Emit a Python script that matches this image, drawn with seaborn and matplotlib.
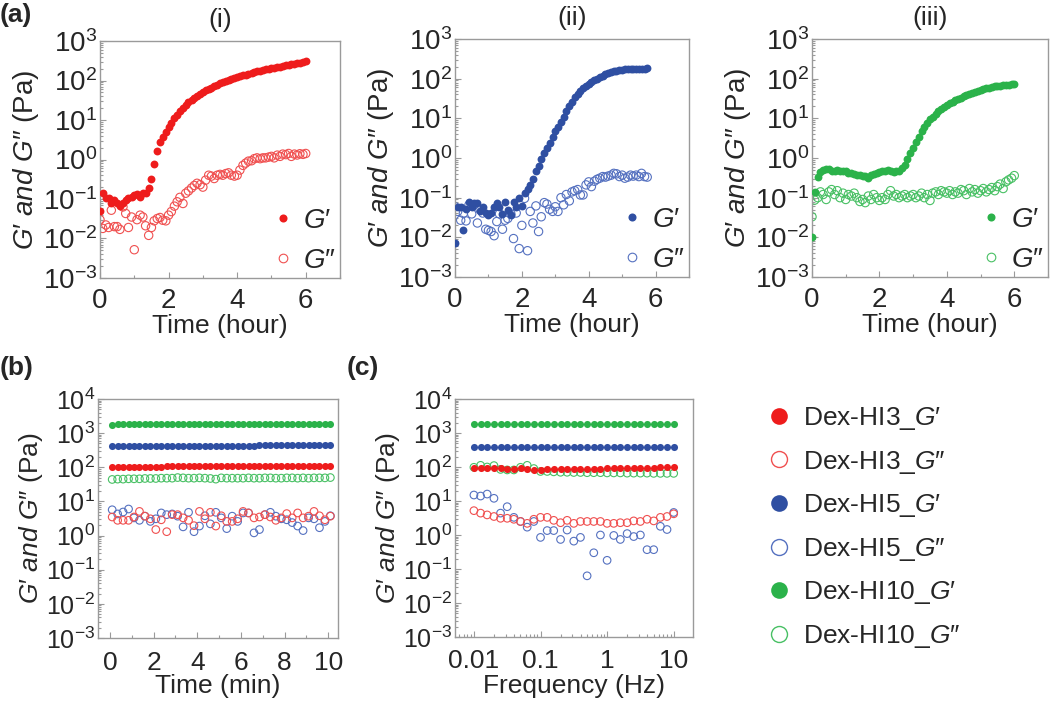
"""Rheology panels: time sweeps (a), stability (b) and frequency sweeps (c)."""

import matplotlib
matplotlib.use("Agg")
import matplotlib.pyplot as plt
from matplotlib.lines import Line2D
from matplotlib.ticker import LogLocator, MultipleLocator, NullFormatter
import numpy as np
import seaborn as sns

sns.set_style("ticks")
plt.rcParams["font.family"] = ["Liberation Sans", "DejaVu Sans"]
plt.rcParams["mathtext.fontset"] = "custom"
plt.rcParams["mathtext.rm"] = "Liberation Sans"
plt.rcParams["mathtext.it"] = "Liberation Sans:italic"
plt.rcParams["mathtext.bf"] = "Liberation Sans:bold"

# ---------------------------------------------------------------- data
TIME_HOUR = [
    0.00, 0.08, 0.17, 0.25, 0.33, 0.42, 0.50, 0.58, 0.67, 0.75, 0.83, 0.92,
    1.00, 1.08, 1.17, 1.25, 1.33, 1.42, 1.50, 1.58, 1.67, 1.75, 1.83, 1.92,
    2.00, 2.08, 2.17, 2.25, 2.33, 2.42, 2.50, 2.58, 2.67, 2.75, 2.83, 2.92,
    3.00, 3.08, 3.17, 3.25, 3.33, 3.42, 3.50, 3.58, 3.67, 3.75, 3.83, 3.92,
    4.00, 4.08, 4.17, 4.25, 4.33, 4.42, 4.50, 4.58, 4.67, 4.75, 4.83, 4.92,
    5.00, 5.08, 5.17, 5.25, 5.33, 5.42, 5.50, 5.58, 5.67, 5.75, 5.83, 5.92,
    6.00,
]

HI3_TIME_GP = [
    0.049, 0.138, 0.105, 0.107, 0.080, 0.093, 0.077, 0.066, 0.080, 0.095, 0.105, 0.113,
    0.125, 0.130, 0.113, 0.138, 0.138, 0.195, 0.33, 0.76, 1.6, 2.7, 3.7, 5.0,
    6.5, 8.6, 11, 13.5, 16.5, 20, 24, 28, 32, 36, 41, 46,
    51, 56, 61, 66, 72, 78, 84, 90, 96, 102, 108, 114,
    120, 127, 134, 141, 148, 155, 162, 169, 176, 183, 190, 197,
    204, 211, 218, 225, 232, 240, 248, 256, 264, 273, 282, 292,
    305,
]
HI3_TIME_GPP = [
    0.030, 0.018, 0.022, 0.019, 0.052, 0.020, 0.020, 0.017, 0.063, 0.043, 0.019, 0.035,
    0.0052, 0.030, 0.039, 0.035, 0.021, 0.012, 0.019, 0.028, 0.032, 0.034, 0.029, 0.028,
    0.039, 0.048, 0.066, 0.085, 0.11, 0.077, 0.14, 0.16, 0.19, 0.22, 0.25, 0.23,
    0.20, 0.30, 0.40, 0.38, 0.33, 0.40, 0.42, 0.40, 0.44, 0.46, 0.40, 0.38,
    0.40, 0.54, 0.71, 0.81, 0.91, 0.93, 1.05, 1.10, 1.05, 1.10, 1.10, 1.15,
    1.20, 1.10, 1.29, 1.20, 1.37, 1.33, 1.42, 1.20, 1.37, 1.30, 1.40, 1.35,
    1.42,
]

HI5_TIME_GP = [
    0.0074, 0.059, 0.059, 0.015, 0.051, 0.080, 0.059, 0.072, 0.072, 0.047, 0.059, 0.042,
    0.036, 0.040, 0.057, 0.075, 0.059, 0.038, 0.080, 0.049, 0.036, 0.080, 0.059, 0.096,
    0.062, 0.13, 0.17, 0.21, 0.30, 0.46, 0.63, 0.93, 1.3, 1.8, 2.4, 3.3,
    4.7, 6.2, 8.3, 11, 15, 20, 26.5, 34, 41, 50, 58, 66,
    74, 83, 92, 100, 109, 117, 128, 135, 144, 152, 158, 165,
    168, 171, 173, 175, 176, 177, 178, 179, 180, 181,
]
HI5_TIME_GPP = [
    0.059, 0.045, 0.027, 0.040, 0.026, 0.066, 0.039, 0.066, 0.023, 0.050, 0.041, 0.016,
    0.015, 0.014, 0.011, 0.025, 0.039, 0.016, 0.027, 0.030, 0.039, 0.0093, 0.041, 0.0052,
    0.020, 0.096, 0.0046, 0.045, 0.023, 0.062, 0.014, 0.033, 0.075, 0.069, 0.051, 0.045,
    0.059, 0.045, 0.10, 0.066, 0.12, 0.083, 0.14, 0.15, 0.16, 0.117, 0.117, 0.21,
    0.25, 0.19, 0.26, 0.29, 0.31, 0.34, 0.33, 0.35, 0.37, 0.41, 0.40, 0.34,
    0.37, 0.31, 0.33, 0.37, 0.35, 0.37, 0.34, 0.41, 0.34, 0.33,
]

HI10_TIME_GP = [
    0.010, 0.135, 0.33, 0.45, 0.50, 0.52, 0.52, 0.48, 0.46, 0.49, 0.46, 0.48,
    0.47, 0.43, 0.41, 0.39, 0.37, 0.37, 0.35, 0.35, 0.31, 0.38, 0.40, 0.42,
    0.44, 0.46, 0.47, 0.50, 0.48, 0.45, 0.47, 0.48, 0.55, 0.68, 0.95, 1.35,
    1.8, 2.5, 3.4, 4.7, 6.2, 7.7, 9.4, 11, 13, 15.5, 17.5, 19.5,
    22, 24, 26.5, 29, 31.5, 33.5, 36, 38.5, 41.5, 44, 46.5, 49,
    51.5, 55, 57, 59.5, 61.5, 63.5, 65.5, 67, 68.5, 70, 71, 72,
    73,
]
HI10_TIME_GPP = [
    0.033, 0.087, 0.10, 0.14, 0.12, 0.09, 0.14, 0.16, 0.12, 0.15, 0.10, 0.13,
    0.09, 0.12, 0.11, 0.13, 0.10, 0.08, 0.09, 0.075, 0.11, 0.09, 0.12, 0.10,
    0.085, 0.10, 0.09, 0.12, 0.15, 0.11, 0.12, 0.10, 0.11, 0.12, 0.10, 0.11,
    0.12, 0.10, 0.11, 0.13, 0.10, 0.12, 0.085, 0.13, 0.14, 0.12, 0.15, 0.14,
    0.13, 0.15, 0.12, 0.14, 0.13, 0.16, 0.15, 0.12, 0.17, 0.14, 0.16, 0.13,
    0.15, 0.17, 0.14, 0.16, 0.18, 0.15, 0.19, 0.22, 0.17, 0.25, 0.28, 0.31,
    0.36,
]

TIME_MIN = [
    0.10, 0.35, 0.60, 0.85, 1.10, 1.35, 1.60, 1.85, 2.10, 2.35, 2.60, 2.85,
    3.10, 3.35, 3.60, 3.85, 4.10, 4.35, 4.60, 4.85, 5.10, 5.35, 5.60, 5.85,
    6.10, 6.35, 6.60, 6.85, 7.10, 7.35, 7.60, 7.85, 8.10, 8.35, 8.60, 8.85,
    9.10, 9.35, 9.60, 9.85, 10.10,
]
HI3_STAB_GP = [
    104, 104, 105, 105, 105, 105, 105, 105, 105, 105, 106, 106,
    106, 106, 106, 106, 106, 106, 106, 106, 106, 106, 106, 106,
    106, 107, 107, 107, 107, 107, 107, 107, 107, 107, 107, 107,
    107, 108, 108, 108, 108,
]
HI3_STAB_GPP = [
    3.5, 2.8, 2.8, 2.8, 3.5, 5.1, 3.7, 3.1, 1.5, 2.9, 1.3, 4.1,
    4.1, 3.3, 2.8, 1.95, 5.1, 3.1, 4.8, 1.9, 3.8, 2.6, 2.6, 3.1,
    5.1, 4.6, 3.3, 3.5, 4.1, 3.5, 2.8, 3.3, 4.4, 3.3, 4.6, 3.3,
    3.7, 5.1, 3.8, 2.9, 3.7,
]
HI5_STAB_GP = [
    420, 421, 422, 422, 423, 424, 424, 425, 425, 426, 426, 427,
    427, 428, 428, 429, 429, 430, 430, 431, 431, 432, 432, 433,
    433, 434, 434, 435, 435, 436, 436, 437, 437, 438, 438, 439,
    439, 440, 440, 441, 441,
]
HI5_STAB_GPP = [
    5.7, 4.3, 4.9, 6.0, 3.3, 2.8, 3.7, 2.6, 3.1, 4.6, 4.1, 4.3,
    3.7, 1.8, 4.8, 1.3, 1.9, 3.8, 2.2, 4.8, 3.3, 1.6, 3.7, 2.6,
    4.6, 4.6, 1.2, 1.5, 4.1, 4.8, 3.7, 3.1, 2.9, 2.4, 1.9, 1.4,
    3.3, 3.1, 1.7, 2.6, 3.8,
]
HI10_STAB_GP = [
    1790, 1792, 1794, 1796, 1798, 1800, 1802, 1804, 1806, 1808, 1810, 1812,
    1814, 1816, 1818, 1820, 1821, 1822, 1823, 1824, 1825, 1826, 1827, 1828,
    1829, 1830, 1831, 1832, 1833, 1834, 1835, 1836, 1837, 1838, 1839, 1840,
    1841, 1842, 1843, 1844, 1845,
]
HI10_STAB_GPP = [
    44, 45, 45, 46, 46, 46, 47, 47, 47, 48, 48, 48,
    50, 49, 48, 48, 49, 48, 47, 45, 49, 48, 48, 48,
    48, 49, 48, 48, 49, 49, 48, 48, 49, 49, 48, 49,
    48, 49, 49, 49, 50,
]

FREQ_HZ = [
    0.01, 0.0126, 0.0158, 0.02, 0.0251, 0.0316, 0.0398, 0.0501, 0.0631, 0.0794,
    0.1, 0.126, 0.158, 0.2, 0.251, 0.316, 0.398, 0.501, 0.631, 0.794,
    1.0, 1.26, 1.58, 2.0, 2.51, 3.16, 3.98, 5.01, 6.31, 7.94, 10.0,
]
HI3_FREQ_GP = [
    92, 93, 92, 91, 91, 90, 90, 91, 88, 82, 84, 85, 86, 87, 88, 88,
    89, 89, 90, 90, 91, 91, 92, 92, 93, 94, 95, 96, 97, 98, 100,
]
HI3_FREQ_GPP = [
    5.2, 4.4, 3.9, 3.5, 3.1, 3.1, 2.9, 2.5, 2.2, 2.9, 3.3, 3.3, 2.7, 2.3, 2.7, 2.2,
    2.5, 2.5, 2.5, 2.5, 2.2, 2.2, 2.3, 2.3, 2.6, 2.5, 2.9, 2.6, 3.3, 3.5, 4.2,
]
HI5_FREQ_GP = [
    400, 399, 398, 398, 397, 397, 396, 396, 395, 395, 394, 394, 393, 393, 392, 392,
    391, 391, 390, 390, 389, 389, 388, 388, 387, 387, 386, 386, 385, 385, 385,
]
HI5_FREQ_GPP = [
    15, 14, 16, 12, 4.4, 6.8, 3.3, 2.5, 1.7, 2.5, 0.85, 1.35, 1.35, 0.74, 1.4, 0.66,
    0.85, 0.063, 0.30, 1.0, 0.18, 0.97, 0.74, 1.1, 0.9, 1.0, 0.37, 0.37, 1.8, 1.45, 4.6,
]
HI10_FREQ_GP = [
    1780, 1782, 1784, 1786, 1788, 1790, 1792, 1794, 1796, 1798, 1800, 1802, 1804, 1806, 1808, 1810,
    1812, 1814, 1816, 1818, 1820, 1822, 1824, 1826, 1828, 1830, 1832, 1834, 1836, 1838, 1840,
]
HI10_FREQ_GPP = [
    98, 112, 100, 110, 85, 82, 82, 98, 112, 90, 74, 74, 72, 70, 70, 69,
    69, 68, 68, 68, 67, 67, 67, 66, 66, 66, 66, 65, 65, 65, 65,
]

SAMPLES = ["Dex-HI3", "Dex-HI5", "Dex-HI10"]
FILL = {"Dex-HI3": "#ee1c1c", "Dex-HI5": "#2f4fa2", "Dex-HI10": "#2bb24a"}
EDGE = {"Dex-HI3": "#f05050", "Dex-HI5": "#5571c0", "Dex-HI10": "#48c064"}

SPINE = "#9a9a9a"
YLABEL = r"$\mathit{G′\ and\ G″}$ (Pa)"

W, H = 1050, 706


def ax_rect(left, top, right, bottom):
    return [left / W, 1 - bottom / H, (right - left) / W, (bottom - top) / H]


def draw(ax, x, y, sample, open_marker, s):
    if open_marker:
        sns.scatterplot(x=x, y=y, ax=ax, s=s, color=EDGE[sample],
                        edgecolor=EDGE[sample], linewidth=0.8, zorder=2)
        ax.collections[-1].set_facecolor("none")
    else:
        sns.scatterplot(x=x, y=y, ax=ax, s=s, color=FILL[sample],
                        edgecolor=FILL[sample], linewidth=0, zorder=3)


def style_axes(ax, ymin, ymax, xsize, ysize, xpad):
    ax.set_yscale("log")
    ax.set_ylim(ymin, ymax)
    ax.yaxis.set_major_locator(LogLocator(base=10, numticks=12))
    ax.yaxis.set_minor_locator(LogLocator(base=10, subs=np.arange(2, 10), numticks=12))
    ax.yaxis.set_minor_formatter(NullFormatter())
    for sp in ax.spines.values():
        sp.set_visible(True)
        sp.set_color(SPINE)
        sp.set_linewidth(1.0)
    ax.tick_params(which="both", direction="in", color=SPINE, width=0.8,
                   top=False, right=False)
    ax.tick_params(which="major", length=4)
    ax.tick_params(which="minor", length=2)
    ax.tick_params(axis="x", labelsize=xsize, pad=xpad)
    ax.tick_params(axis="y", labelsize=ysize, pad=2)


fig = plt.figure(figsize=(W / 100, H / 100), dpi=100)

# ---------------------------------------------------------------- (a)
time_panels = [
    ("(i)", "Dex-HI3", HI3_TIME_GP, HI3_TIME_GPP, (100, 41, 340, 278)),
    ("(ii)", "Dex-HI5", HI5_TIME_GP, HI5_TIME_GPP, (455, 39, 689, 277)),
    ("(iii)", "Dex-HI10", HI10_TIME_GP, HI10_TIME_GPP, (812, 39, 1048, 277)),
]
for title, sample, gp, gpp, box in time_panels:
    ax = fig.add_axes(ax_rect(*box))
    t = TIME_HOUR[:len(gp)]
    draw(ax, t, gpp, sample, True, 36)
    draw(ax, t, gp, sample, False, 32)
    style_axes(ax, 1e-3, 1e3, 20, 20, 7)
    ax.set_xlim(0, 7)
    ax.xaxis.set_major_locator(MultipleLocator(2))
    ax.xaxis.set_minor_locator(MultipleLocator(1))
    ax.set_xlabel("Time (hour)", fontsize=19, labelpad=0)
    ax.set_ylabel(YLABEL, fontsize=20, labelpad=1)
    ax.set_title(title, fontsize=19, pad=10)
    handles = [
        Line2D([], [], ls="none", marker="o", ms=5.8, mfc=FILL[sample], mec=FILL[sample], mew=0),
        Line2D([], [], ls="none", marker="o", ms=6.2, mfc="none", mec=EDGE[sample], mew=0.8),
    ]
    ax.legend(handles, [r"$\mathit{G′}$", r"$\mathit{G″}$"], loc="lower right",
              bbox_to_anchor=(1.0, 0.0), frameon=False, fontsize=20,
              handlelength=0.8, handletextpad=0.3, labelspacing=0.5,
              borderpad=0.15, borderaxespad=0.0)

# ---------------------------------------------------------------- (b)
ax_b = fig.add_axes(ax_rect(98, 399, 338, 638))
stab = [
    ("Dex-HI10", HI10_STAB_GP, HI10_STAB_GPP),
    ("Dex-HI5", HI5_STAB_GP, HI5_STAB_GPP),
    ("Dex-HI3", HI3_STAB_GP, HI3_STAB_GPP),
]
for sample, gp, gpp in stab:
    draw(ax_b, TIME_MIN, gpp, sample, True, 30)
for sample, gp, gpp in stab:
    draw(ax_b, TIME_MIN, gp, sample, False, 26)
style_axes(ax_b, 1e-3, 1e4, 19, 18, 9)
ax_b.set_xlim(-0.55, 10.45)
ax_b.xaxis.set_major_locator(MultipleLocator(2))
ax_b.xaxis.set_minor_locator(MultipleLocator(1))
ax_b.set_xlabel("Time (min)", fontsize=19, labelpad=0)
ax_b.set_ylabel(YLABEL, fontsize=19, labelpad=1)

# ---------------------------------------------------------------- (c)
ax_c = fig.add_axes(ax_rect(455, 399, 693, 637))
freq = [
    ("Dex-HI10", HI10_FREQ_GP, HI10_FREQ_GPP),
    ("Dex-HI5", HI5_FREQ_GP, HI5_FREQ_GPP),
    ("Dex-HI3", HI3_FREQ_GP, HI3_FREQ_GPP),
]
for sample, gp, gpp in freq:
    draw(ax_c, FREQ_HZ, gpp, sample, True, 30)
for sample, gp, gpp in freq:
    draw(ax_c, FREQ_HZ, gp, sample, False, 26)
style_axes(ax_c, 1e-3, 1e4, 19, 18, 9)
ax_c.set_xscale("log")
ax_c.set_xlim(0.0052, 19.5)
ax_c.set_xticks([0.01, 0.1, 1, 10])
ax_c.set_xticklabels(["0.01", "0.1", "1", "10"])
ax_c.xaxis.set_minor_locator(LogLocator(base=10, subs=np.arange(2, 10), numticks=12))
ax_c.xaxis.set_minor_formatter(NullFormatter())
ax_c.set_xlabel("Frequency (Hz)", fontsize=19, labelpad=0)
ax_c.set_ylabel(YLABEL, fontsize=19, labelpad=1)

# ---------------------------------------------------------------- legend
leg_handles, leg_labels = [], []
for sample in SAMPLES:
    leg_handles.append(Line2D([], [], ls="none", marker="o", ms=12,
                              mfc=FILL[sample], mec=FILL[sample], mew=0))
    leg_labels.append(sample + r"_$\mathit{G′}$")
    leg_handles.append(Line2D([], [], ls="none", marker="o", ms=11.5,
                              mfc="none", mec=EDGE[sample], mew=1.0))
    leg_labels.append(sample + r"_$\mathit{G″}$")
fig.legend(leg_handles, leg_labels, loc="upper left",
           bbox_to_anchor=(766 / W, 1 - 405 / H), frameon=False, fontsize=19,
           handlelength=1.0, handletextpad=0.4, labelspacing=0.63,
           borderpad=0, borderaxespad=0)

# ---------------------------------------------------------------- panel tags
fig.text(0 / W, 1 - 3 / H, "(a)", fontsize=19, fontweight="bold", va="top", ha="left")
fig.text(0 / W, 1 - 356 / H, "(b)", fontsize=19, fontweight="bold", va="top", ha="left")
fig.text(347 / W, 1 - 356 / H, "(c)", fontsize=19, fontweight="bold", va="top", ha="left")

fig.savefig("out.png", dpi=100)
plt.close(fig)
